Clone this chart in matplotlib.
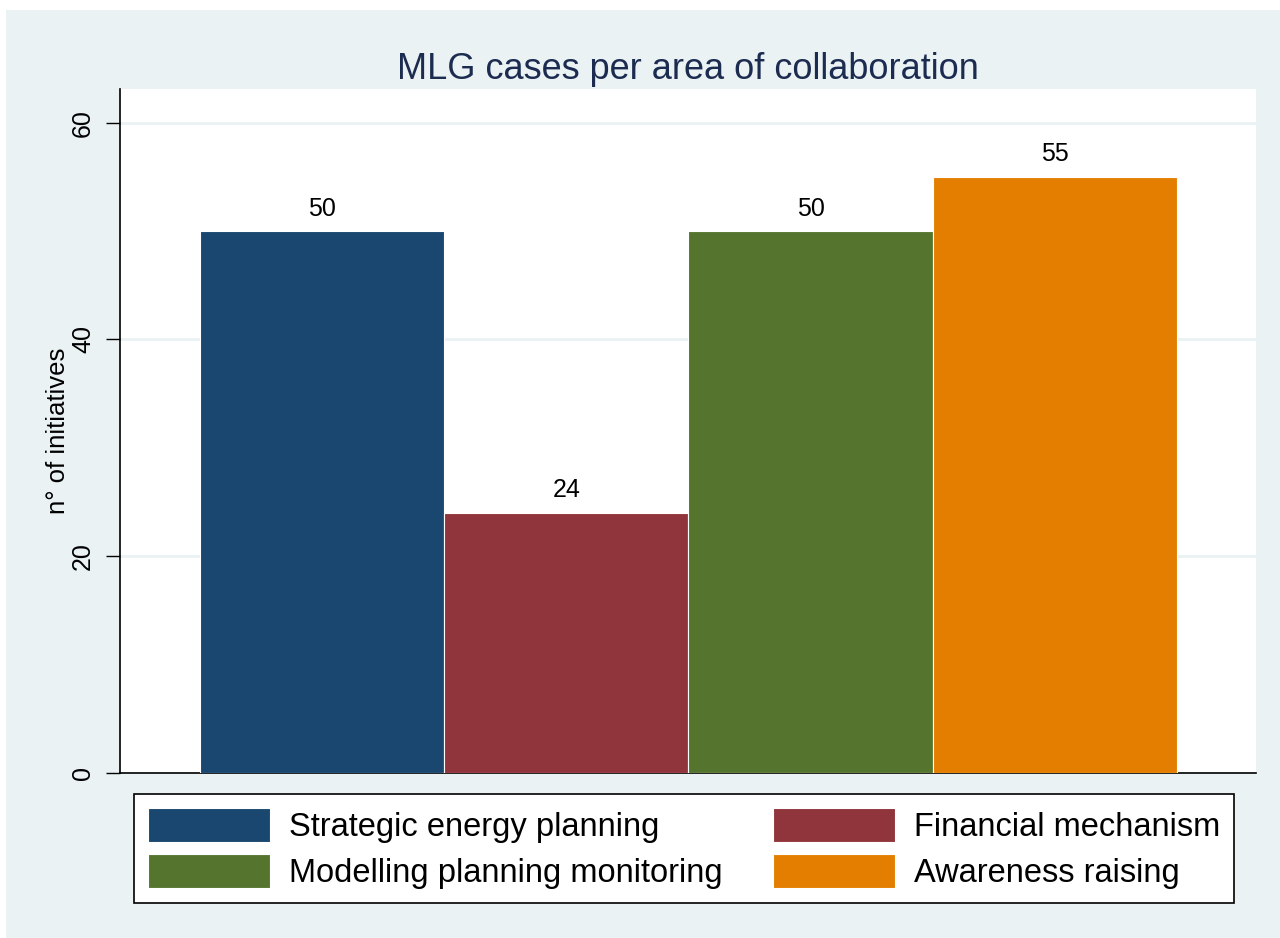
import matplotlib
matplotlib.use("Agg")
import matplotlib.pyplot as plt
from matplotlib.patches import Rectangle

categories = ["Strategic energy planning", "Financial mechanism",
              "Modelling planning monitoring", "Awareness raising"]
values = [50, 24, 50, 55]
colors = ["#1A476F", "#90353B", "#55752F", "#E37E00"]
yticks = [0, 20, 40, 60]
title = "MLG cases per area of collaboration"
ylabel = "n° of initiatives"

plt.rcParams['font.family'] = ['Liberation Sans', 'DejaVu Sans']

W, H = 1280, 938
fig = plt.figure(figsize=(W/100, H/100), dpi=100, facecolor="white")
bg = "#EAF2F3"
fig.patches.append(Rectangle((6/W, 0), 1 - 6/W, 1 - 10/H, transform=fig.transFigure,
                             facecolor=bg, edgecolor="none", zorder=-5))

x0, x1, y0, y1 = 120, 1256, 89, 773
ax = fig.add_axes([x0/W, 1 - y1/H, (x1-x0)/W, (y1-y0)/H])
ax.set_facecolor("white")

pos = list(range(len(values)))
bars = ax.bar(pos, values, width=1.0, align="edge", color=colors,
              edgecolor="white", linewidth=0.8, zorder=3)
for b, c in zip(bars, categories):
    b.set_label(c)
for p, v in zip(pos, values):
    ax.annotate(str(v), xy=(p + 0.5, v), xytext=(0, 7.5), textcoords="offset points",
                ha="center", va="bottom", fontsize=18, color="black", zorder=4)

ax.set_xlim(-0.327, 4.323)
ax.set_ylim(0, 63.1)
ax.set_yticks(yticks)
ax.set_yticklabels([str(t) for t in yticks], rotation=90, va="center", fontsize=18)
ax.tick_params(axis="y", length=10, width=1, pad=8, color="black")
ax.set_xticks([])
ax.grid(axis="y", color="#EAF2F3", linewidth=2, zorder=1)
for s in ["top", "right"]:
    ax.spines[s].set_visible(False)
for s in ["left", "bottom"]:
    ax.spines[s].set_linewidth(1.2)
ax.set_ylabel(ylabel, fontsize=18.5, labelpad=1)
ax.set_title(title, fontsize=26, color="#1C2B50", pad=7)

order = [0, 2, 1, 3]
leg = ax.legend([bars[i] for i in order], [categories[i] for i in order], ncol=2,
                loc="upper center", bbox_to_anchor=(0.4965, -0.0307),
                fontsize=23.5, frameon=True, fancybox=False, edgecolor="black",
                framealpha=1, facecolor="white",
                handlelength=3.74, handleheight=1.22, handletextpad=0.58,
                columnspacing=1.56, labelspacing=0.35, borderpad=0.42, borderaxespad=0)
leg.get_frame().set_linewidth(1.2)

fig.savefig("out.png", dpi=100, facecolor="white")
